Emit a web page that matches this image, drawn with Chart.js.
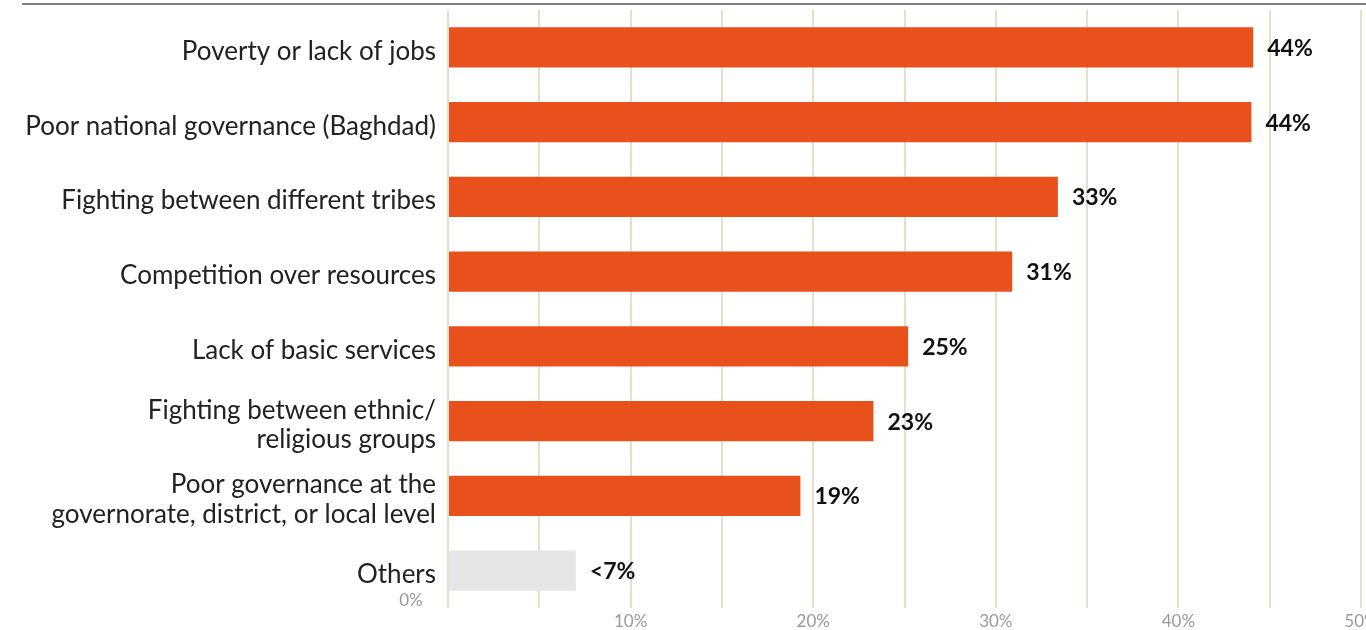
<!DOCTYPE html>
<html>
<head>
<meta charset="utf-8">
<script src="https://cdn.jsdelivr.net/npm/chart.js@4.4.0/dist/chart.umd.min.js"></script>
<style>
  html, body { margin: 0; padding: 0; background: #fff; overflow: hidden; }
  #topline { position: absolute; left: 22px; right: 0; top: 3px; height: 0; border-top: 2px solid #808080; }
  #wrap { position: absolute; left: 0; top: 0; width: 1380px; height: 630px; }
</style>
</head>
<body>
<div id="wrap"><canvas id="myChart"></canvas></div>
<div id="topline"></div>
<script>
// categories, values (percent) and the printed labels
var causes = [
   'Poverty or lack of jobs',
   'Poor national governance (Baghdad)',
   'Fighting between different tribes',
   'Competition over resources',
   'Lack of basic services',
   ['Fighting between ethnic/', 'religious groups'],
   ['Poor governance at the', 'governorate, district, or local level'],
   'Others'
];
var shares = [44.1, 44.0, 33.4, 30.9, 25.2, 23.3, 19.3, 7.0];
var shareLabels = ['44%', '44%', '33%', '31%', '25%', '23%', '19%', '<7%'];
var tickValues = [10, 20, 30, 40, 50];

var barColors = shares.map(function(v, i) {
   return i == causes.length - 1 ? '#e6e6e6' : '#e8501c';
});

// writes the percent at the end of every bar
var valueLabels = {
   id: 'valueLabels',
   afterDatasetsDraw: function(chart) {
      var ctx = chart.ctx;
      var meta = chart.getDatasetMeta(0);
      ctx.save();
      ctx.font = 'bold 23px Lato';
      ctx.fillStyle = '#111';
      ctx.textAlign = 'left';
      ctx.textBaseline = 'middle';
      meta.data.forEach(function(bar, i) {
         ctx.fillText(shareLabels[i], bar.x + 14, bar.y + 1);
      });
      // the zero label sits off to the left in the original
      var x = chart.scales.x;
      ctx.font = '17px Lato';
      ctx.fillStyle = '#999';
      ctx.textAlign = 'center';
      ctx.fillText('0%', x.getPixelForValue(0) - 37, x.top - 7);
      ctx.restore();
   }
};

const ctx = document.getElementById('myChart');
var chart = new Chart(ctx, {
   type: 'bar',
   data: {
      labels: causes,
      datasets: [{
         data: shares,
         backgroundColor: barColors,
         categoryPercentage: 1,
         barPercentage: 0.54
      }]
   },
   options: {
      indexAxis: 'y',
      responsive: true,
      maintainAspectRatio: false,
      animation: false,
      layout: { padding: { top: 10, right: 19, left: 0, bottom: 0 } },
      plugins: {
         legend: { display: false },
         tooltip: { enabled: false }
      },
      scales: {
         x: {
            min: 0,
            max: 50,
            border: { display: false },
            grid: { color: '#e3dfc9', lineWidth: 2, drawTicks: false },
            ticks: {
               stepSize: 5,
               padding: 3,
               color: '#999',
               font: { family: 'Lato', size: 17 },
               callback: function(v) {
                  return tickValues.indexOf(v) >= 0 ? v + '%' : '';
               }
            },
            afterFit: function(scale) {
               scale.height = 22;
               scale.paddingLeft = 0;
               scale.paddingRight = 0;
            }
         },
         y: {
            border: { display: false },
            grid: { display: false, drawTicks: false },
            ticks: {
               padding: 12,
               labelOffset: 4,
               color: '#222',
               font: { family: 'Lato', size: 26, lineHeight: 1.15 }
            },
            afterFit: function(scale) {
               scale.width = 448;
               scale.paddingTop = 0;
               scale.paddingBottom = 0;
            }
         }
      }
   },
   plugins: [valueLabels]
});
</script>
</body>
</html>
